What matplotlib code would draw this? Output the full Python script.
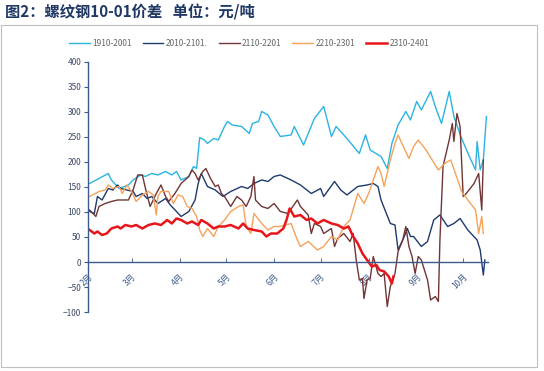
import matplotlib
matplotlib.use('Agg')
import matplotlib.pyplot as plt
from matplotlib.patches import Rectangle

plt.rcParams['font.family'] = ['Noto Sans CJK SC', 'DejaVu Sans']

# days counted from Feb 1
d1910 = [1, 13, 15, 20, 26, 29, 34, 37, 41, 45, 50, 54, 57, 60, 65, 68, 70, 72, 75, 77,
         81, 84, 88, 90, 93, 99, 104, 106, 110, 112, 116, 120, 124, 131, 133, 139, 146, 152, 157, 160,
         167, 175, 179, 182, 189, 193, 196, 200, 205, 208, 212, 215, 221, 224, 228, 233, 236, 241, 246, 250,
         251, 253, 255, 257]
v1910 = [157, 177, 164, 147, 154, 164, 174, 171, 177, 174, 181, 174, 181, 164, 171, 191, 187, 249, 244, 237,
         247, 244, 271, 281, 274, 271, 257, 277, 281, 301, 294, 271, 251, 254, 271, 234, 287, 311, 251, 271,
         247, 217, 254, 224, 211, 187, 237, 274, 301, 284, 321, 304, 341, 311, 277, 341, 291, 247, 211, 184,
         241, 184, 204, 291]

d2010 = [1, 4, 6, 9, 13, 16, 19, 21, 25, 29, 31, 35, 38, 41, 45, 50, 53, 57, 60, 65,
         69, 71, 73, 77, 82, 87, 92, 99, 103, 107, 112, 116, 120, 124, 131, 137, 144, 150, 152, 159,
         163, 167, 174, 180, 184, 187, 189, 195, 198, 200, 204, 206, 208, 210, 215, 219, 223, 227, 232, 236,
         240, 245, 251, 253, 255, 256]
v2010 = [101, 97, 131, 124, 147, 144, 154, 147, 144, 141, 131, 137, 127, 131, 117, 127, 114, 101, 91, 101,
         124, 157, 177, 151, 144, 131, 141, 151, 147, 157, 164, 161, 171, 174, 164, 154, 137, 147, 131, 161,
         144, 134, 151, 154, 157, 151, 124, 77, 74, 24, 51, 67, 51, 51, 31, 41, 84, 94, 71, 77,
         87, 64, 44, 24, -26, 4]

d2110 = [1, 5, 7, 11, 15, 19, 26, 29, 32, 35, 37, 40, 44, 47, 50, 52, 56, 60, 65, 67,
         69, 71, 74, 76, 79, 82, 84, 86, 88, 92, 96, 99, 102, 105, 107, 108, 112, 116, 120, 124,
         129, 135, 137, 142, 144, 146, 150, 152, 157, 159, 161, 165, 169, 171, 173, 175, 177, 178, 180, 182,
         184, 187, 189, 191, 193, 195, 198, 200, 203, 205, 207, 209, 211, 213, 215, 219, 221, 224, 226, 227,
         229, 233, 235, 236, 238, 240, 242, 244, 249, 252, 254, 255]
v2110 = [104, 91, 111, 117, 121, 124, 124, 144, 174, 174, 147, 111, 137, 154, 131, 121, 137, 157, 171, 184,
         177, 164, 181, 187, 167, 151, 154, 137, 131, 111, 131, 124, 111, 131, 171, 124, 111, 107, 117, 101,
         97, 124, 111, 94, 57, 77, 71, 57, 67, 31, 47, 57, 41, 57, 4, -36, -33, -73, -36, -33,
         11, -23, -29, -23, -89, -49, -23, 21, 44, 71, 31, 11, -23, 11, 4, -36, -76, -69, -79, 44,
         191, 244, 277, 241, 297, 271, 131, 137, 157, 177, 104, 204]

d2210 = [1, 7, 11, 13, 16, 20, 22, 25, 28, 31, 35, 39, 42, 44, 45, 47, 52, 55, 58, 61,
         64, 67, 70, 72, 74, 77, 81, 84, 88, 92, 97, 100, 102, 105, 107, 112, 116, 120, 124, 131,
         135, 137, 142, 148, 152, 157, 161, 165, 169, 174, 178, 181, 184, 187, 189, 191, 195, 198, 200, 204,
         207, 210, 213, 218, 222, 226, 230, 234, 237, 241, 245, 250, 252, 254, 255]
v2210 = [131, 141, 144, 154, 147, 151, 137, 154, 141, 121, 134, 141, 134, 94, 131, 141, 141, 117, 134, 131,
         111, 107, 91, 64, 51, 67, 51, 71, 84, 101, 111, 114, 71, 57, 97, 77, 64, 71, 71, 77,
         44, 31, 41, 24, 31, 51, 44, 71, 84, 137, 117, 137, 164, 191, 177, 151, 204, 237, 254, 227,
         207, 231, 244, 224, 204, 184, 197, 204, 177, 141, 124, 104, 57, 91, 57]

d2310 = [1, 4, 6, 9, 12, 15, 19, 21, 24, 28, 31, 35, 39, 43, 47, 51, 54, 57, 60, 64,
         67, 71, 73, 77, 81, 84, 88, 92, 97, 100, 103, 107, 112, 115, 118, 122, 126, 128, 130, 133,
         137, 141, 144, 148, 152, 157, 161, 165, 168, 171, 174, 177, 180, 183, 186, 188, 191, 194, 196, 197]
v2310 = [64, 57, 61, 54, 57, 67, 71, 67, 74, 71, 74, 67, 74, 77, 74, 84, 77, 87, 84, 77,
         81, 74, 84, 77, 67, 71, 71, 74, 67, 77, 67, 64, 61, 51, 57, 57, 67, 84, 107, 91,
         94, 84, 87, 77, 84, 77, 74, 67, 71, 51, 37, 17, 4, -9, -6, -16, -19, -29, -43, -29]

month_pos = [0, 28, 59, 89, 120, 150, 181, 212, 242]
month_lbl = ['2月', '3月', '4月', '5月', '6月', '7月', '8月', '9月', '10月']

fig = plt.figure(figsize=(5.44, 3.71), dpi=100)
ax = fig.add_axes([0.162, 0.159, 0.735, 0.674])

ax.plot(d1910, v1910, color='#2BB3E2', lw=1.0, label='1910-2001')
ax.plot(d2010, v2010, color='#1F3A6E', lw=1.0, label='2010-2101.')
ax.plot(d2110, v2110, color='#713535', lw=1.0, label='2110-2201')
ax.plot(d2210, v2210, color='#F5A25A', lw=1.0, label='2210-2301')
ax.plot(d2310, v2310, color='#E8161B', lw=1.8, label='2310-2401')

ax.set_xlim(0, 258)
ax.set_ylim(-100, 400)
ax.set_yticks(range(-100, 401, 50))

ax.spines['top'].set_visible(False)
ax.spines['right'].set_visible(False)
ax.spines['bottom'].set_position(('data', 0))
for s in ['left', 'bottom']:
    ax.spines[s].set_color('#3C5A8C')
    ax.spines[s].set_linewidth(1.0)
ax.tick_params(axis='y', labelsize=6, colors='#3C4A66', length=3, width=0.8, pad=2)
ax.tick_params(axis='y', color='#3C5A8C')
ax.tick_params(axis='x', direction='in', labelsize=6, length=3, width=0.6,
               color='#3C5A8C', labelcolor='#3C5A8C', pad=7)

ax.set_xticks(month_pos)
ax.set_xticklabels(month_lbl)
plt.setp(ax.get_xticklabels(), rotation=45, ha='right', va='top', rotation_mode='anchor')

fig.legend(loc='center', bbox_to_anchor=(0.458, 0.884), ncol=5, frameon=False,
           fontsize=6, handlelength=2.5, columnspacing=1.3, handletextpad=0.3,
           labelcolor='#666666')

fig.text(0.01, 0.967, '图2：螺纹钢10-01价差   单位：元/吨', fontsize=11, fontweight='bold',
         color='#1F3864', va='center', ha='left')

fig.patches.append(Rectangle((0.002, 0.012), 0.985, 0.92, transform=fig.transFigure,
                             fill=False, edgecolor='#BFBFBF', lw=0.8))

fig.savefig('out.png', dpi=100)
